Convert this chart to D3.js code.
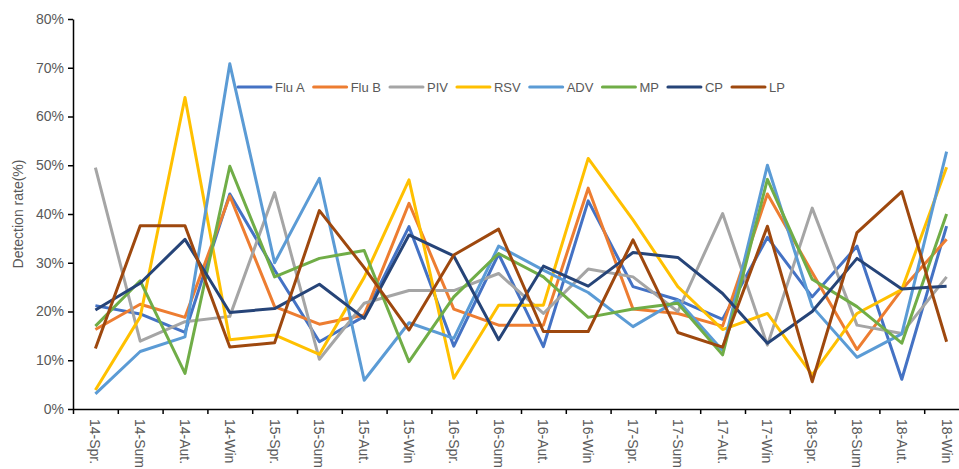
<!DOCTYPE html>
<html>
<head>
<meta charset="utf-8">
<script src="https://cdn.jsdelivr.net/npm/d3@7"></script>
<style>
  body { margin: 0; background: #fff; }
  svg { display: block; font-family: "Liberation Sans", Arial, sans-serif; }
</style>
</head>
<body>
<div id="chart"></div>
<script>
// seasons on the x axis
const seasons = ["14-Spr.", "14-Sum.", "14-Aut.", "14-Win", "15-Spr.", "15-Sum.", "15-Aut.", "15-Win",
  "16-Spr.", "16-Sum.", "16-Aut.", "16-Win", "17-Spr.", "17-Sum.", "17-Aut.", "17-Win",
  "18-Spr.", "18-Sum.", "18-Aut.", "18-Win"];

const yTicks = [0, 10, 20, 30, 40, 50, 60, 70, 80];

// detection rates (%) per pathogen
const fluA = [21.2, 19.5, 15.7, 44.1, 28.5, 13.8, 19, 37.4, 12.9, 31.8, 12.8, 42.7, 25.1, 22.4, 18.4, 35.2, 23, 33.4, 6.1, 37.5];
const fluB = [16.3, 21.5, 18.8, 43.7, 21, 17.4, 19.3, 42.2, 20.5, 17.2, 17.2, 45.3, 20.5, 19.6, 17, 44.1, 28, 12.2, 24.5, 34.8];
const piv  = [49.5, 13.9, 17.9, 19, 44.4, 10.2, 21.7, 24.3, 24.3, 27.8, 19.6, 28.7, 27.1, 20, 40.1, 13.1, 41.2, 17.2, 15.5, 27.1];
const rsv  = [3.9, 18.9, 63.9, 14.2, 15.2, 11.2, 27, 47, 6.3, 21.3, 21.3, 51.4, 38.8, 25.1, 16.3, 19.6, 7, 19.6, 24.5, 49.6];
const adv  = [3.1, 11.8, 14.8, 70.8, 30, 47.3, 5.9, 17.7, 14.5, 33.4, 28.5, 23.9, 16.9, 22.3, 12, 50, 21, 10.6, 15.4, 52.8];
const mp   = [17, 26.3, 7.3, 49.8, 27.1, 30.9, 32.5, 9.7, 23, 31.9, 27.1, 18.8, 20.5, 21.7, 11.1, 47.1, 26.6, 21, 13.5, 40];
const cp   = [20.3, 25.8, 34.8, 19.8, 20.6, 25.6, 18.6, 35.7, 31.4, 14.2, 29.3, 25.2, 32.1, 31.1, 23.7, 13.5, 20, 30.9, 24.6, 25.2];
const lp   = [12.4, 37.6, 37.6, 12.7, 13.6, 40.7, 29, 16.2, 31.6, 36.9, 15.9, 15.9, 34.7, 15.7, 12.7, 37.5, 5.6, 36.2, 44.6, 13.8];

const seriesNames = ["Flu A", "Flu B", "PIV", "RSV", "ADV", "MP", "CP", "LP"];
const seriesValues = [fluA, fluB, piv, rsv, adv, mp, cp, lp];
const seriesColors = ["#4472C4", "#ED7D31", "#A5A5A5", "#FFC000", "#5B9BD5", "#70AD47", "#264478", "#9E480E"];

const width = 959, height = 469;
const margin = { l: 73, t: 19, b: 60 };
const plotRight = 969;   // the plot runs past the picture edge
const y0 = height - margin.b; // 409

const svg = d3.select("#chart").append("svg")
  .attr("width", width).attr("height", height);

const x = d3.scaleBand().domain(seasons).range([margin.l, plotRight]);
const xb = d3.scaleLinear().domain([0, seasons.length]).range([margin.l, plotRight]);
const y = d3.scaleLinear().domain([0, 80]).range([y0, margin.t]);

// lines
const line = d3.line()
  .x((d, i) => x(seasons[i]) + x.bandwidth() / 2)
  .y(d => y(d));

svg.append("g").selectAll("path")
  .data(seriesValues)
  .join("path")
  .attr("d", line)
  .attr("fill", "none")
  .attr("stroke", (d, i) => seriesColors[i])
  .attr("stroke-width", 3)
  .attr("stroke-linejoin", "round");

// y axis
const yAxis = svg.append("g")
  .attr("transform", `translate(${margin.l},0)`)
  .call(d3.axisLeft(y).tickValues(yTicks).tickFormat(d => d + "%").tickSize(5).tickSizeOuter(0));
yAxis.select(".domain").attr("stroke", "#000").attr("stroke-width", 1.5);
yAxis.selectAll(".tick line").attr("stroke", "#000").attr("stroke-width", 1.5);
yAxis.selectAll("text").attr("fill", "#595959").attr("font-size", 14).attr("x", -9);

// x axis: boundary ticks
const xAxis = svg.append("g")
  .attr("transform", `translate(0,${y0})`)
  .call(d3.axisBottom(xb).tickValues(d3.range(0, seasons.length + 1)).tickFormat("").tickSize(5).tickSizeOuter(0));
xAxis.select(".domain").attr("stroke", "#000").attr("stroke-width", 1.5);
xAxis.selectAll(".tick line").attr("stroke", "#000").attr("stroke-width", 1.5);

// x axis: labels at band centres
const xLab = svg.append("g")
  .attr("transform", `translate(0,${y0})`)
  .call(d3.axisBottom(x).tickSize(0));
xLab.select(".domain").remove();
xLab.selectAll("text")
  .attr("fill", "#595959")
  .attr("font-size", 14)
  .attr("text-anchor", "start")
  .attr("transform", "rotate(90)")
  .attr("x", 10)
  .attr("y", 0)
  .attr("dy", "0.35em");

// y title
svg.append("text")
  .attr("transform", `translate(23,${(y0 + margin.t) / 2}) rotate(-90)`)
  .attr("text-anchor", "middle")
  .attr("fill", "#595959")
  .attr("font-size", 14)
  .text("Detection rate(%)");

// legend
const legend = svg.append("g").attr("transform", "translate(238,87)");
let lx = 0;
seriesNames.forEach((name, i) => {
  const item = legend.append("g").attr("transform", `translate(${lx},0)`);
  item.append("line")
    .attr("x1", 0).attr("x2", 33).attr("y1", 0).attr("y2", 0)
    .attr("stroke", seriesColors[i]).attr("stroke-width", 3).attr("stroke-linecap", "round");
  const t = item.append("text")
    .attr("x", 37).attr("dy", "0.35em")
    .attr("fill", "#595959").attr("font-size", 13)
    .text(name);
  lx += 37 + t.node().getComputedTextLength() + 9;
});
</script>
</body>
</html>
